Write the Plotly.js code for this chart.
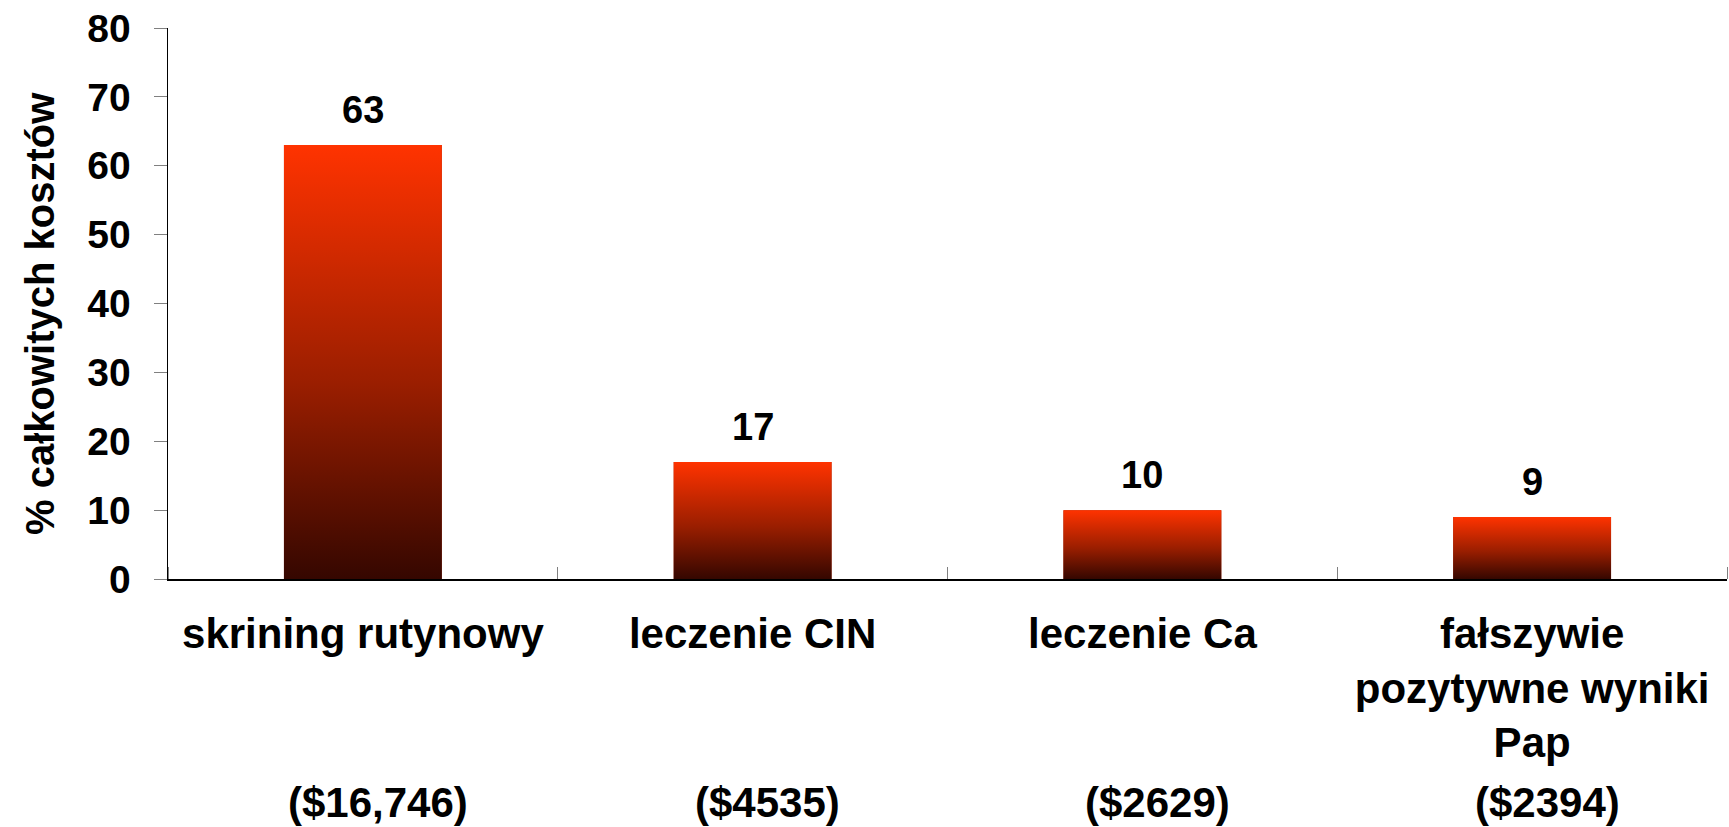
<!DOCTYPE html>
<html>
<head>
<meta charset="utf-8">
<script src="https://cdn.plot.ly/plotly-3.0.1.min.js"></script>
<style>
  html, body { margin: 0; padding: 0; background: #ffffff; }
  #chart { width: 1729px; height: 827px; }
</style>
</head>
<body>
<div id="chart"></div>
<script>
// ---- data ----
const categories = ['skrining rutynowy', 'leczenie CIN', 'leczenie Ca', 'fałszywie<br>pozytywne wyniki<br>Pap'];
const percentValues = [63, 17, 10, 9];
const costLabels = ['($16,746)', '($4535)', '($2629)', '($2394)'];
const yTickValues = [0, 10, 20, 30, 40, 50, 60, 70, 80];
const yAxisTitle = '% całkowitych kosztów';

// ---- styling ----
const FONT = '"Liberation Sans", Arial, sans-serif';
const barWidth = 0.405;
const gradientScale = [[0, '#350700'], [0.45, '#9A1E00'], [1, '#FF3300']];
const positions = categories.map((_, i) => i);

const traces = [{
  type: 'bar',
  x: positions,
  y: percentValues,
  width: barWidth,
  marker: { color: '#9A1E00', line: { width: 0 } },
  hoverinfo: 'y',
  showlegend: false
}];

// gradient overlay drawn over each bar (built from the same values)
percentValues.forEach((v, i) => {
  const h = barWidth / 2;
  traces.push({
    type: 'scatter',
    mode: 'lines',
    x: [i - h, i + h, i + h, i - h, i - h],
    y: [0, 0, v, v, 0],
    fill: 'toself',
    fillcolor: '#9A1E00',
    fillgradient: { type: 'vertical', colorscale: gradientScale },
    line: { width: 0, color: 'rgba(0,0,0,0)' },
    hoverinfo: 'skip',
    showlegend: false
  });
});

const annotations = [];
percentValues.forEach((v, i) => {
  annotations.push({
    x: i, y: v, xref: 'x', yref: 'y',
    text: String(v), showarrow: false,
    xanchor: 'center', yanchor: 'middle', yshift: 35,
    font: { family: FONT, size: 38, color: '#000000', weight: 'bold' }
  });
});
costLabels.forEach((t, i) => {
  annotations.push({
    x: i, y: -0.4065, xref: 'x', yref: 'paper',
    text: t, showarrow: false,
    xanchor: 'center', yanchor: 'middle', xshift: 15,
    font: { family: FONT, size: 42, color: '#000000', weight: 'bold' }
  });
});
annotations.push({
  x: -0.0821, y: 0.481, xref: 'paper', yref: 'paper',
  text: yAxisTitle, showarrow: false, textangle: -90,
  xanchor: 'center', yanchor: 'middle',
  font: { family: FONT, size: 40, color: '#000000', weight: 'bold' }
});

const boundaries = categories.map((_, i) => i - 0.5).concat([categories.length - 0.5]);

const layout = {
  width: 1729, height: 827,
  margin: { l: 168, r: 2, t: 28, b: 248, pad: 0 },
  paper_bgcolor: '#ffffff', plot_bgcolor: '#ffffff',
  showlegend: false,
  xaxis: {
    type: 'linear',
    range: [-0.5, categories.length - 0.5],
    tickmode: 'array', tickvals: positions, ticktext: categories,
    ticks: '', showgrid: false, zeroline: false,
    showline: true, linecolor: '#000000', linewidth: 1.5,
    tickfont: { family: FONT, size: 42, color: '#000000', weight: 'bold' },
    ticklabelstandoff: 17,
    minor: { tickmode: 'array', tickvals: boundaries, ticks: 'inside', ticklen: 12, tickwidth: 1, tickcolor: '#808080', showgrid: false },
    fixedrange: true
  },
  yaxis: {
    range: [0, 80],
    tickmode: 'array', tickvals: yTickValues,
    ticks: 'outside', ticklen: 13, tickwidth: 1, tickcolor: '#808080',
    showgrid: false, zeroline: false,
    showline: true, linecolor: '#000000', linewidth: 1.5,
    tickfont: { family: FONT, size: 39, color: '#000000', weight: 'bold' },
    ticklabelstandoff: 15,
    fixedrange: true
  },
  annotations: annotations
};

Plotly.newPlot('chart', traces, layout, { displayModeBar: false, staticPlot: true });
</script>
</body>
</html>
